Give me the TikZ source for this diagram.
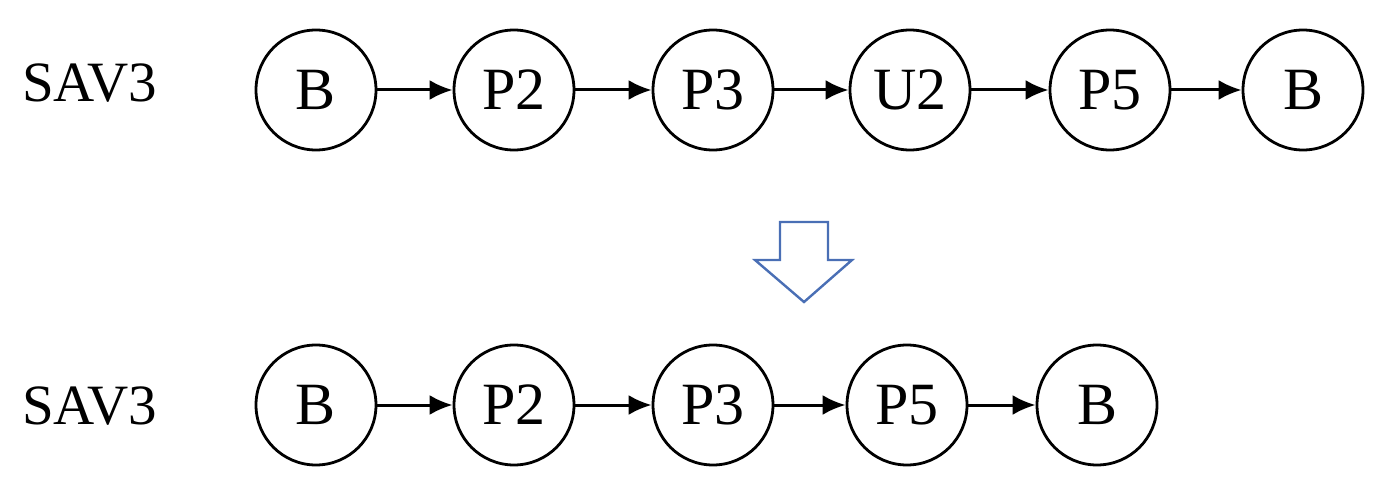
\documentclass[tikz,border=0pt]{standalone}
\usepackage{fontspec}
\setmainfont{Liberation Serif}
\usetikzlibrary{arrows.meta}
\definecolor{arrowblue}{HTML}{4A6FB5}
\begin{document}
\begin{tikzpicture}[x=1pt,y=-1pt,
  state/.style={circle,draw=black,line width=2.8pt,minimum size=120pt,inner sep=0pt,font=\fontsize{60}{66}\selectfont},
  lbl/.style={anchor=base west,inner sep=0pt,font=\fontsize{57}{64}\selectfont},
  link/.style={line width=3pt,-{Latex[length=23pt,width=20pt]}}]
\useasboundingbox (0,0) rectangle (1386,489);
% top row
\node[lbl] (l1) at (22,102) {SAV3};
\node[state] (a1) at (316,90) {B};
\node[state] (a2) at (514,90) {P2};
\node[state] (a3) at (713,90) {P3};
\node[state] (a4) at (910,90) {U2};
\node[state] (a5) at (1110,90) {P5};
\node[state] (a6) at (1303,90) {B};
\draw[link] (a1) -- (a2);
\draw[link] (a2) -- (a3);
\draw[link] (a3) -- (a4);
\draw[link] (a4) -- (a5);
\draw[link] (a5) -- (a6);
% hollow arrow
\draw[arrowblue,line width=2.4pt,line join=miter] (780,222) -- (828,222) -- (828,260) -- (852,260) -- (804,302) -- (755,260) -- (780,260) -- cycle;
% bottom row
\node[lbl] (l2) at (22,424) {SAV3};
\node[state] (b1) at (316,405) {B};
\node[state] (b2) at (514,405) {P2};
\node[state] (b3) at (713,405) {P3};
\node[state] (b4) at (907,405) {P5};
\node[state] (b5) at (1097,405) {B};
\draw[link] (b1) -- (b2);
\draw[link] (b2) -- (b3);
\draw[link] (b3) -- (b4);
\draw[link] (b4) -- (b5);
\end{tikzpicture}
\end{document}
